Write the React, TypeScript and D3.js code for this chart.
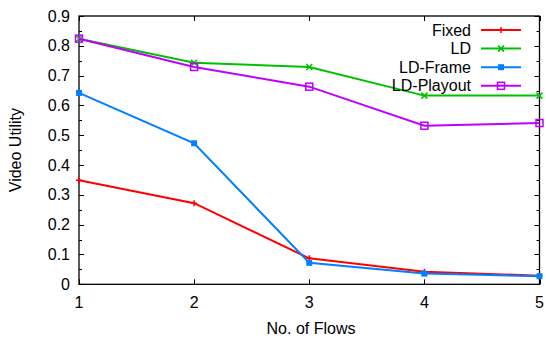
import React, { useEffect, useRef } from 'react';
import * as d3 from 'd3';

const flows = [1, 2, 3, 4, 5];
const fixed = [0.349, 0.272, 0.087, 0.042, 0.029];
const ld = [0.824, 0.743, 0.729, 0.633, 0.633];
const ldFrame = [0.642, 0.473, 0.072, 0.036, 0.027];
const ldPlayout = [0.824, 0.729, 0.663, 0.532, 0.541];
const yTicks = [0, 0.1, 0.2, 0.3, 0.4, 0.5, 0.6, 0.7, 0.8, 0.9];

const seriesList = [
  { name: 'Fixed', values: fixed, color: '#ff0000', marker: 'plus' },
  { name: 'LD', values: ld, color: '#00c000', marker: 'cross' },
  { name: 'LD-Frame', values: ldFrame, color: '#0080ff', marker: 'fillsq' },
  { name: 'LD-Playout', values: ldPlayout, color: '#c000ff', marker: 'opensq' },
];

export default function App() {
  const ref = useRef<SVGSVGElement>(null);

  useEffect(() => {
    if (!ref.current) return;
    const svg = d3.select(ref.current);
    svg.selectAll('*').remove();

    const left = 79, right = 539.5, top = 16, bottom = 284.3;
    const x = d3.scaleLinear().domain([1, 5]).range([left, right]);
    const y = d3.scaleLinear().domain([0, 0.9]).range([bottom, top]);
    const font = "'Liberation Sans', Arial, sans-serif";
    const fs = '16px';

    const g = svg.append('g');

    // ticks (mirrored on all sides)
    const tk = g.append('g').attr('stroke', '#000').attr('stroke-width', 1);
    d3.range(0, 0.9001, 0.05).forEach((v, i) => {
      const len = i % 2 === 0 ? 5 : 3;
      const yy = Math.round(y(v)) + 0.5;
      tk.append('line').attr('x1', left).attr('x2', left + len).attr('y1', yy).attr('y2', yy);
      tk.append('line').attr('x1', right).attr('x2', right - len).attr('y1', yy).attr('y2', yy);
    });
    flows.forEach(f => {
      const xx = Math.round(x(f)) + 0.5;
      tk.append('line').attr('x1', xx).attr('x2', xx).attr('y1', bottom).attr('y2', bottom - 5);
      tk.append('line').attr('x1', xx).attr('x2', xx).attr('y1', top).attr('y2', top + 5);
    });

    // frame
    g.append('rect')
      .attr('x', left).attr('y', top)
      .attr('width', right - left).attr('height', bottom - top)
      .attr('fill', 'none').attr('stroke', '#000').attr('stroke-width', 1.3);

    // tick labels
    yTicks.forEach(v => {
      g.append('text')
        .attr('x', 70).attr('y', y(v) + 5.5)
        .attr('text-anchor', 'end')
        .style('font-family', font).style('font-size', fs)
        .text(v === 0 ? '0' : v.toFixed(1));
    });
    flows.forEach(f => {
      g.append('text')
        .attr('x', x(f)).attr('y', 307.5)
        .attr('text-anchor', 'middle')
        .style('font-family', font).style('font-size', fs)
        .text(String(f));
    });

    // axis titles
    g.append('text')
      .attr('transform', `translate(21,${(top + bottom) / 2}) rotate(-90)`)
      .attr('text-anchor', 'middle')
      .style('font-family', font).style('font-size', fs)
      .text('Video Utility');
    g.append('text')
      .attr('x', 311).attr('y', 334)
      .attr('text-anchor', 'middle')
      .style('font-family', font).style('font-size', fs)
      .text('No. of Flows');

    const drawMarker = (sel: any, kind: string, cx: number, cy: number, color: string) => {
      if (kind === 'plus') {
        sel.append('path').attr('d', `M${cx - 3},${cy}H${cx + 3}M${cx},${cy - 3}V${cy + 3}`)
          .attr('stroke', color).attr('stroke-width', 1.5).attr('fill', 'none');
      } else if (kind === 'cross') {
        sel.append('path').attr('d', `M${cx - 3},${cy - 3}L${cx + 3},${cy + 3}M${cx - 3},${cy + 3}L${cx + 3},${cy - 3}`)
          .attr('stroke', color).attr('stroke-width', 1.5).attr('fill', 'none');
      } else if (kind === 'fillsq') {
        sel.append('rect').attr('x', cx - 3).attr('y', cy - 3).attr('width', 6).attr('height', 6)
          .attr('fill', color);
      } else {
        sel.append('rect').attr('x', cx - 3.5).attr('y', cy - 3.5).attr('width', 7).attr('height', 7)
          .attr('fill', 'none').attr('stroke', color).attr('stroke-width', 1.5);
      }
    };

    const line = d3.line<number>().x((_, i) => x(flows[i])).y(d => y(d));
    seriesList.forEach(s => {
      g.append('path').datum(s.values)
        .attr('d', line)
        .attr('fill', 'none').attr('stroke', s.color).attr('stroke-width', 2);
      s.values.forEach((v, i) => drawMarker(g, s.marker, x(flows[i]), y(v), s.color));
    });

    // legend
    seriesList.forEach((s, i) => {
      const ly = 30 + i * 18.6;
      g.append('text')
        .attr('x', 471).attr('y', ly + 5.5)
        .attr('text-anchor', 'end')
        .style('font-family', font).style('font-size', fs)
        .text(s.name);
      g.append('line').attr('x1', 481).attr('x2', 521).attr('y1', ly).attr('y2', ly)
        .attr('stroke', s.color).attr('stroke-width', 2);
      drawMarker(g, s.marker, 501, ly, s.color);
    });
  }, []);

  return (
    <svg ref={ref} width={546} height={343}
      style={{ position: 'absolute', left: 0, top: 0, background: '#fff' }} />
  );
}
